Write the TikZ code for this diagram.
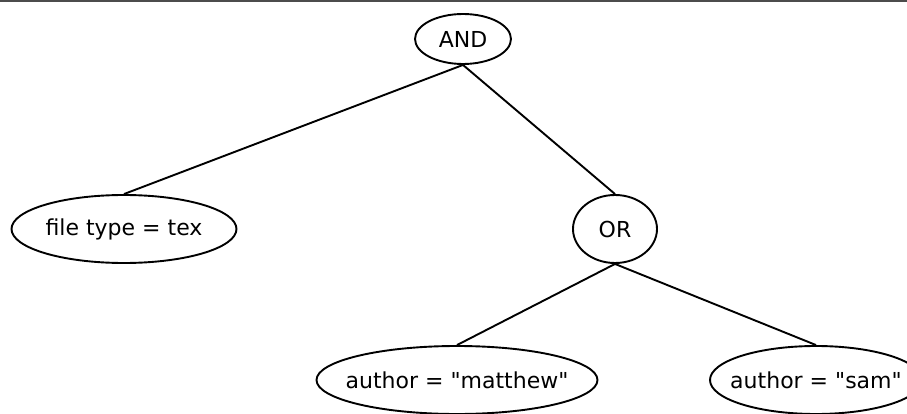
\documentclass[tikz,border=0pt]{standalone}
\usepackage{fontspec}
\setmainfont{DejaVu Sans}[Ligatures=TeXOff]
\usetikzlibrary{shapes.geometric}
\tikzstyle{term} = [align=center,draw=black,ellipse,inner xsep=-30pt,inner ysep=0pt,minimum height=68pt,text centered]
\tikzstyle{link} = [draw=black]

\begin{document}
\begin{tikzpicture}[x=1pt,y=-1pt,line width=1.9pt,font=\fontsize{22}{26}\selectfont]
				\clip (0,0) rectangle (907,414);
				\draw [gray!60!black,line width=2pt] (0,1) -- (907,1);
				\node (and) [term,minimum width=96pt,minimum height=50pt] at (463,39) {AND};
				\node (ftype) [term,minimum width=225pt] at (124,229) {file type = tex};
				\node (or) [term,minimum width=84pt] at (615,229) {OR};
				\node (matthew) [term,minimum width=281pt] at (457,380) {author = "matthew"};
				\node (sam) [term,minimum width=212pt] at (816,380) {author = "sam"};
				\draw [link] (and.south) -- (ftype.north);
				\draw [link] (and.south) -- (or.north);
				\draw [link] (or.south) -- (matthew.north);
				\draw [link] (or.south) -- (sam.north);
			\end{tikzpicture}
\end{document}
